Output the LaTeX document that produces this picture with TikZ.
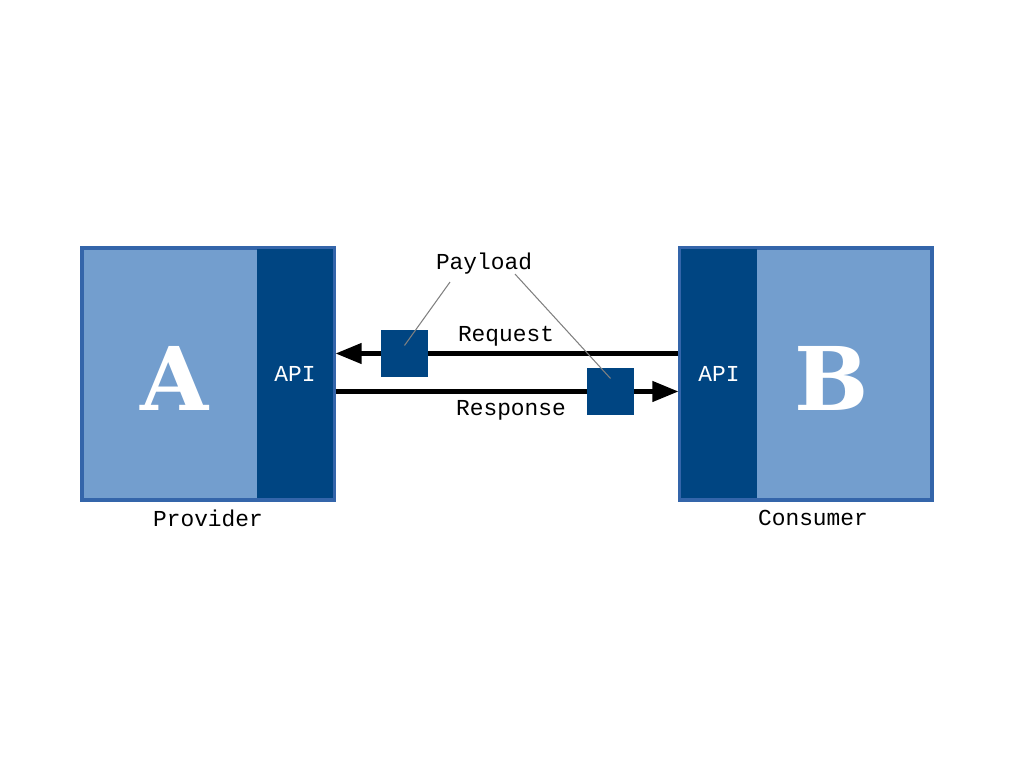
\documentclass[tikz,border=0pt]{standalone}
\usepackage{fontspec}
\setmainfont{Liberation Mono}
\newfontfamily\letterfont{DejaVu Serif}
\usetikzlibrary{arrows.meta,positioning}

\definecolor{lightblue}{RGB}{115,158,206}
\definecolor{darkblue}{RGB}{0,69,130}
\definecolor{edgeblue}{RGB}{52,101,170}

\tikzstyle{system} = [
rectangle,
minimum width=2.52cm,
minimum height=2.52cm,
line width=0.9pt,
draw=edgeblue,
fill=lightblue
]
\tikzstyle{apistrip} = [
rectangle,
minimum width=0.76cm,
minimum height=2.49cm,
inner sep=0pt,
fill=darkblue,
text=white,
font=\fontsize{6.5}{8}\selectfont
]
\tikzstyle{payloadbox} = [
rectangle,
minimum width=0.47cm,
minimum height=0.47cm,
inner sep=0pt,
fill=darkblue
]
\tikzstyle{letter} = [
text=white,
font=\letterfont\bfseries\fontsize{25}{25}\selectfont
]
\tikzstyle{caption} = [
font=\fontsize{6.5}{8}\selectfont
]
\tikzstyle{arrow} = [
line width=1.2pt,
-{Triangle[length=0.26cm,width=0.2cm]}
]
\tikzstyle{leader} = [
gray,
line width=0.3pt
]

\begin{document}
\begin{tikzpicture}

\useasboundingbox (0,0) rectangle (10.24,7.68);

% Systems
\node (provider) [system] at (2.08,3.94) {};
\node (providerapi) [apistrip] at (2.95,3.94) {API};
\node (providerletter) [letter] at (1.75,3.90) {A};
\node (providerlabel) [caption, below=-0.04cm of provider] {Provider};

\node (consumer) [system] at (8.06,3.94) {};
\node (consumerapi) [apistrip] at (7.19,3.94) {API};
\node (consumerletter) [letter] at (8.32,3.90) {B};
\node (consumerlabel) [caption, below=-0.04cm of consumer, xshift=0.07cm] {Consumer};

% Payloads
\node (reqpayload) [payloadbox] at (4.045,4.145) {};
\node (respayload) [payloadbox] at (6.105,3.765) {};
\node (payload) [caption] at (4.84,5.04) {Payload};

% Arrows
\draw [arrow] (consumer.west |- reqpayload) -- (provider.east |- reqpayload);
\draw [arrow] (provider.east |- respayload) -- (consumer.west |- respayload);
\node (request) [caption] at (5.06,4.32) {Request};
\node (response) [caption] at (5.11,3.58) {Response};

% Boxes on top of the lines
\node [payloadbox] at (reqpayload) {};
\node [payloadbox] at (respayload) {};

% Leaders
\draw [leader] ([xshift=-0.34cm,yshift=0.05cm]payload.south) -- ([yshift=0.08cm]reqpayload.center);
\draw [leader] ([xshift=0.31cm,yshift=0.13cm]payload.south) -- ([yshift=0.13cm]respayload.center);

\end{tikzpicture}
\end{document}
